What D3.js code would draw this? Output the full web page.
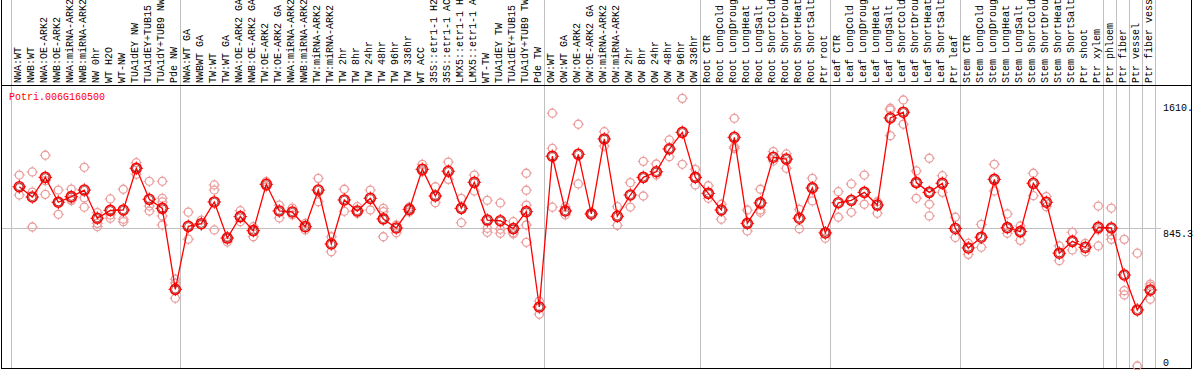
<!DOCTYPE html>
<html>
<head>
<meta charset="utf-8">
<script src="https://cdn.jsdelivr.net/npm/d3@7"></script>
<style>
  body { margin: 0; background: #fff; }
  svg { display: block; }
  text { font-family: "Liberation Mono", "DejaVu Sans Mono", monospace; font-size: 10px; }
</style>
</head>
<body>
<svg id="chart"></svg>
<script>
// sample names, one per column
const labels = [
  'NWA:WT', 'NWB:WT', 'NWA:OE-ARK2', 'NWB:OE-ARK2', 'NWA:miRNA-ARK2', 'NWB:miRNA-ARK2',
  'NW 0hr', 'WT H2O', 'WT-NW', 'TUA1dEY NW', 'TUA1dEY+TUB15 NW', 'TUA1dY+TUB9 NW', 'Pde NW',
  'NWA:WT GA', 'NWBWT GA', 'TW:WT', 'TW:WT GA', 'NWA:OE-ARK2 GA', 'NWB:OE-ARK2 GA',
  'TW:OE-ARK2', 'TW:OE-ARK2 GA', 'NWA:miRNA-ARK2 GA', 'NWB:miRNA-ARK2 GA', 'TW:miRNA-ARK2',
  'TW:miRNA-ARK2 GA', 'TW 2hr', 'TW 8hr', 'TW 24hr', 'TW 48hr', 'TW 96hr', 'TW 336hr', 'WT ACC',
  '35S::etr1-1 H2O', '35S::etr1-1 ACC', 'LMX5::etr1-1 H2O', 'LMX5::etr1-1 ACC', 'WT-TW',
  'TUA1dEY TW', 'TUA1dEY+TUB15 TW', 'TUA1dY+TUB9 TW', 'Pde TW',
  'OW:WT', 'OW:WT GA', 'OW:OE-ARK2', 'OW:OE-ARK2 GA', 'OW:miRNA-ARK2', 'OW:miRNA-ARK2 GA',
  'OW 2hr', 'OW 8hr', 'OW 24hr', 'OW 48hr', 'OW 96hr', 'OW 336hr',
  'Root CTR', 'Root LongCold', 'Root LongDrought', 'Root LongHeat', 'Root LongSalt',
  'Root ShortCold', 'Root ShortDrought', 'Root ShortHeat', 'Root ShortSalt', 'Ptr root',
  'Leaf CTR', 'Leaf LongCold', 'Leaf LongDrought', 'Leaf LongHeat', 'Leaf LongSalt',
  'Leaf ShortCold', 'Leaf ShortDrought', 'Leaf ShortHeat', 'Leaf ShortSalt', 'Ptr leaf',
  'Stem CTR', 'Stem LongCold', 'Stem LongDrought', 'Stem LongHeat', 'Stem LongSalt',
  'Stem ShortCold', 'Stem ShortDrought', 'Stem ShortHeat', 'Stem ShortSalt', 'Ptr shoot', 'Ptr xylem',
  'Ptr phloem', 'Ptr fiber', 'Ptr vessel', 'Ptr fiber vessel'
];

// mean expression per column
const means = [
  1096, 1034, 1153, 1002, 1036, 1076, 905, 953, 955, 1208, 1020, 965, 474,
  856, 872, 1004, 785, 915, 830, 1111, 949, 943, 854, 1076, 749, 1016, 949, 1026,
  901, 846, 959, 1202, 1040, 1190, 965, 1123, 894, 890, 842, 945, 367,
  1281, 949, 1293, 931, 1386, 917, 1046, 1153, 1187, 1325, 1426, 1153,
  1056, 955, 1396, 874, 998, 1275, 1264, 905, 1089, 816,
  999, 1014, 1062, 985, 1513, 1548, 1121, 1062, 1117, 843,
  725, 790, 1141, 848, 824, 1117, 1002, 693, 765, 729, 850,
  846, 561, 349, 470
];

// individual replicates per column
const reps = [
  [1167, 1046, 1089], [1186, 1064, 852], [1287, 1133, 1050], [1076, 929, 1004], [1082, 1020, 1012],
  [1214, 1028, 972], [939, 874, 854], [1022, 925, 905], [1081, 899, 884], [1242, 1172, 1210],
  [1129, 979, 949], [1129, 1026, 1004, 919, 864], [535, 420, 512],
  [942, 778], [894, 864], [1107, 1076, 834], [793, 761], [951, 884], [854, 793], [1127, 1096],
  [985, 907], [967, 925], [874, 834], [1147, 1005], [793, 702], [1081, 947], [975, 935],
  [1076, 955], [965, 945, 793], [864, 817], [972, 943], [1232, 1187], [1096, 999], [1246, 1141],
  [1026, 878], [1167, 1070], [1014, 844, 820], [998, 838, 814], [884, 817, 810],
  [1178, 1075, 985, 864, 759], [403, 323],
  [1542, 1329, 972], [975, 925], [1475, 1113], [939, 925], [1430, 1343], [975, 862],
  [1121, 973], [1250, 1040], [1234, 1167], [1380, 1278], [1632, 1232], [1202, 1107],
  [1102, 1026], [990, 899], [1511, 1339, 1329], [955, 828], [1081, 955, 941], [1309, 1252],
  [1295, 1208], [959, 842], [1147, 1010], [824, 784],
  [1066, 911], [1113, 941], [1167, 990], [1005, 935], [1572, 1562, 1406], [1622, 1475],
  [1192, 1026], [1269, 990, 919], [1163, 1062], [911, 788],
  [753, 686], [868, 729], [1232, 1070], [931, 814], [858, 771], [1178, 1042], [1036, 975],
  [737, 648], [820, 713], [753, 702], [979, 834, 737],
  [967, 804, 777], [777, 466, 440], [693, 9], [506, 494, 414]
];

// column index where each block of samples starts/ends
const groupEdges = [0, 13, 41, 53, 63, 73, 84, 85, 86, 87, 88];

const yTicks = [1610, 845.3, 0];
const yTickText = ['1610.', '845.3', '0'];
const gridValue = 845.3;
const geneId = 'Potri.006G160500';

const width = 1194;
const height = 370;
const headerBottom = 85;
const frameRight = 1191.5;
const frameBottom = 368.5;

const svg = d3.select('#chart')
  .attr('width', width)
  .attr('height', height);

const x = d3.scaleBand()
  .domain(d3.range(labels.length))
  .range([11, 11 + 13 * labels.length])
  .paddingInner(0)
  .paddingOuter(0);

const cx = i => x(i) + 8.3;

const y = d3.scaleLinear()
  .domain([0, 1610])
  .range([367.5, 102]);

// block separators, running through header and plot
svg.append('g')
  .selectAll('line')
  .data(groupEdges)
  .join('line')
  .attr('x1', d => (d < labels.length ? x(d) : x.range()[1]) + 0.5)
  .attr('x2', d => (d < labels.length ? x(d) : x.range()[1]) + 0.5)
  .attr('y1', 0)
  .attr('y2', frameBottom)
  .attr('stroke', '#c0c0c0')
  .attr('stroke-width', 1);

// horizontal reference line
svg.append('line')
  .attr('x1', 1)
  .attr('x2', 1161)
  .attr('y1', Math.round(y(gridValue)) + 0.5)
  .attr('y2', Math.round(y(gridValue)) + 0.5)
  .attr('stroke', '#c0c0c0');

// frame
svg.append('line')
  .attr('x1', 1.5).attr('x2', 1.5)
  .attr('y1', 0).attr('y2', frameBottom)
  .attr('stroke', '#000');
svg.append('line')
  .attr('x1', frameRight).attr('x2', frameRight)
  .attr('y1', 0).attr('y2', frameBottom)
  .attr('stroke', '#000');
svg.append('line')
  .attr('x1', 1).attr('x2', frameRight)
  .attr('y1', headerBottom + 0.5).attr('y2', headerBottom + 0.5)
  .attr('stroke', '#000');
svg.append('line')
  .attr('x1', 1).attr('x2', frameRight)
  .attr('y1', frameBottom).attr('y2', frameBottom)
  .attr('stroke', '#000');

// rotated column labels
svg.append('g')
  .selectAll('text')
  .data(labels)
  .join('text')
  .attr('transform', (d, i) => `translate(${cx(i) + 1.6}, ${headerBottom - 2}) rotate(-90)`)
  .attr('fill', '#000')
  .text(d => d);

// gene title
svg.append('text')
  .attr('x', 9)
  .attr('y', 100)
  .attr('fill', '#ff0000')
  .text(geneId);

// y labels on the right
svg.append('g')
  .selectAll('text')
  .data(yTicks)
  .join('text')
  .attr('x', 1163)
  .attr('y', d => Math.min(y(d) + 9, 366))
  .attr('fill', '#000')
  .text((d, i) => yTickText[i]);

// small ring marker with nubs, like the original bitmap circles
function ring(g, px, py, r, color, sw) {
  g.append('circle')
    .attr('cx', px).attr('cy', py).attr('r', r)
    .attr('fill', 'none')
    .attr('stroke', color)
    .attr('stroke-width', sw);
  const k = r + sw / 2;
  [[0, -1], [0, 1], [-1, 0], [1, 0]].forEach(([dx, dy]) => {
    g.append('line')
      .attr('x1', px + dx * (k - 0.5)).attr('y1', py + dy * (k - 0.5))
      .attr('x2', px + dx * (k + 1)).attr('y2', py + dy * (k + 1))
      .attr('stroke', color)
      .attr('stroke-width', 1);
  });
}

// replicates
const repLayer = svg.append('g');
reps.forEach((vals, i) => {
  vals.forEach(v => ring(repLayer, cx(i), y(v), 4, '#eb9c9c', 1.3));
});

// mean line
const line = d3.line()
  .x((d, i) => cx(i))
  .y(d => y(d));

svg.append('path')
  .datum(means)
  .attr('d', line)
  .attr('fill', 'none')
  .attr('stroke', '#ff0000')
  .attr('stroke-width', 1.3);

// means
const meanLayer = svg.append('g');
means.forEach((v, i) => {
  ring(meanLayer, cx(i), y(v), 5, '#ff0000', 1.6);
  meanLayer.append('circle')
    .attr('cx', cx(i)).attr('cy', y(v)).attr('r', 3.7)
    .attr('fill', 'none')
    .attr('stroke', '#800000')
    .attr('stroke-width', 0.7);
});
</script>
</body>
</html>
